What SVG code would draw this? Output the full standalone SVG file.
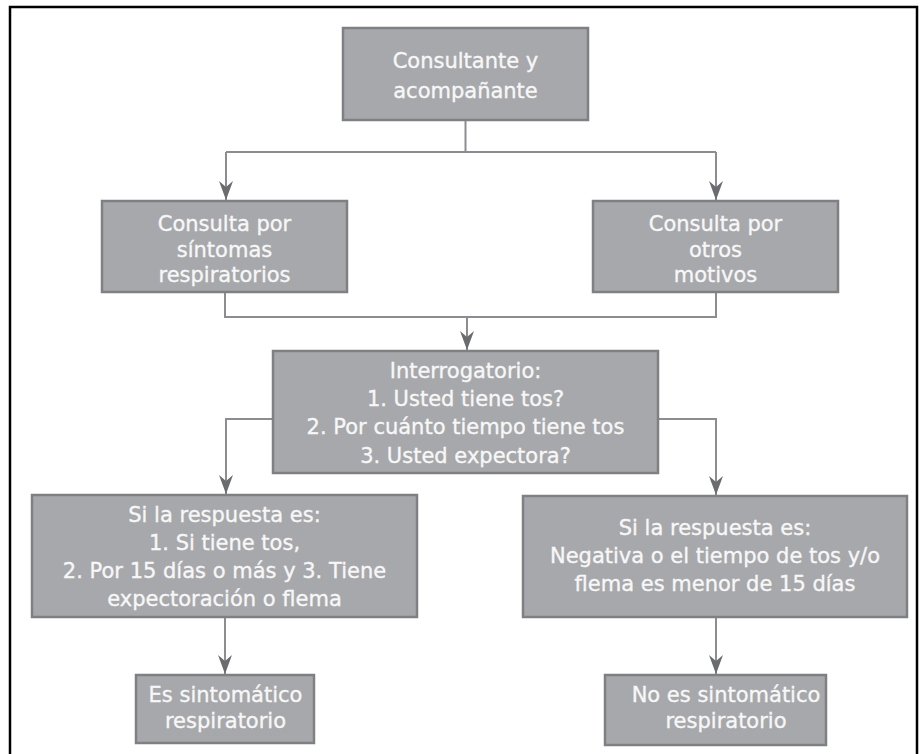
<svg xmlns="http://www.w3.org/2000/svg" width="922" height="754" viewBox="0 0 922 754">
<style>
.box{fill:#a7a8ab;stroke:#7f8083;stroke-width:2.5}
.t{font-family:"DejaVu Sans",Verdana,sans-serif;font-size:21px;fill:#f7f7f7;stroke:#f7f7f7;stroke-width:0.35;text-anchor:middle}
.c{fill:none;stroke:#8c8d90;stroke-width:2}
</style>
<defs>
<marker id="ah" markerUnits="userSpaceOnUse" markerWidth="20" markerHeight="16" viewBox="-19 -8 20 16" refX="0" refY="0" orient="auto">
<path d="M0,0 L-19,-7 L-13,0 L-19,7 Z" fill="#6b6c6f"/>
</marker>
</defs>
<rect x="10" y="7" width="907" height="760" fill="none" stroke="#000" stroke-width="2.5"/>
<g id="connectors">
<path class="c" d="M465.5,120 V152 M226,152 H716"/>
<path class="c" d="M226,152 V200" marker-end="url(#ah)"/>
<path class="c" d="M716,152 V200" marker-end="url(#ah)"/>
<path class="c" d="M225,292 V317 H716 V292"/>
<path class="c" d="M467,317 V350" marker-end="url(#ah)"/>
<path class="c" d="M273,419 H226 V494" marker-end="url(#ah)"/>
<path class="c" d="M658,419 H716 V495" marker-end="url(#ah)"/>
<path class="c" d="M225,617 V674" marker-end="url(#ah)"/>
<path class="c" d="M716,617 V674" marker-end="url(#ah)"/>
</g>
<g id="n1">
<rect class="box" x="343" y="28" width="245" height="92"/>
<text class="t" x="465.5" y="68">Consultante y</text>
<text class="t" x="465.5" y="98">acompañante</text>
</g>
<g id="n2">
<rect class="box" x="102" y="201" width="245" height="91"/>
<text class="t" x="224.5" y="231">Consulta por</text>
<text class="t" x="224.5" y="257">síntomas</text>
<text class="t" x="224.5" y="282">respiratorios</text>
</g>
<g id="n3">
<rect class="box" x="593" y="201" width="245" height="91"/>
<text class="t" x="715.5" y="231">Consulta por</text>
<text class="t" x="715.5" y="257">otros</text>
<text class="t" x="715.5" y="282">motivos</text>
</g>
<g id="n4">
<rect class="box" x="273" y="351" width="385" height="122"/>
<text class="t" x="465.5" y="378">Interrogatorio:</text>
<text class="t" x="465.5" y="406">1. Usted tiene tos?</text>
<text class="t" x="465.5" y="434">2. Por cuánto tiempo tiene tos</text>
<text class="t" x="465.5" y="463">3. Usted expectora?</text>
</g>
<g id="n5">
<rect class="box" x="32" y="495" width="385" height="122"/>
<text class="t" x="224.5" y="522">Si la respuesta es:</text>
<text class="t" x="224.5" y="550">1. Si tiene tos,</text>
<text class="t" x="224.5" y="578">2. Por 15 días o más y 3. Tiene</text>
<text class="t" x="224.5" y="606">expectoración o flema</text>
</g>
<g id="n6">
<rect class="box" x="523" y="496" width="384" height="121"/>
<text class="t" x="715" y="535">Si la respuesta es:</text>
<text class="t" x="715" y="563">Negativa o el tiempo de tos y/o</text>
<text class="t" x="715" y="591">flema es menor de 15 días</text>
</g>
<g id="n7">
<rect class="box" x="136" y="675" width="178" height="68"/>
<text class="t" x="225.5" y="702">Es sintomático</text>
<text class="t" x="225.5" y="728">respiratorio</text>
</g>
<g id="n8">
<rect class="box" x="605" y="675" width="221" height="70"/>
<text class="t" x="726" y="702">No es sintomático</text>
<text class="t" x="726" y="728">respiratorio</text>
</g>
</svg>
